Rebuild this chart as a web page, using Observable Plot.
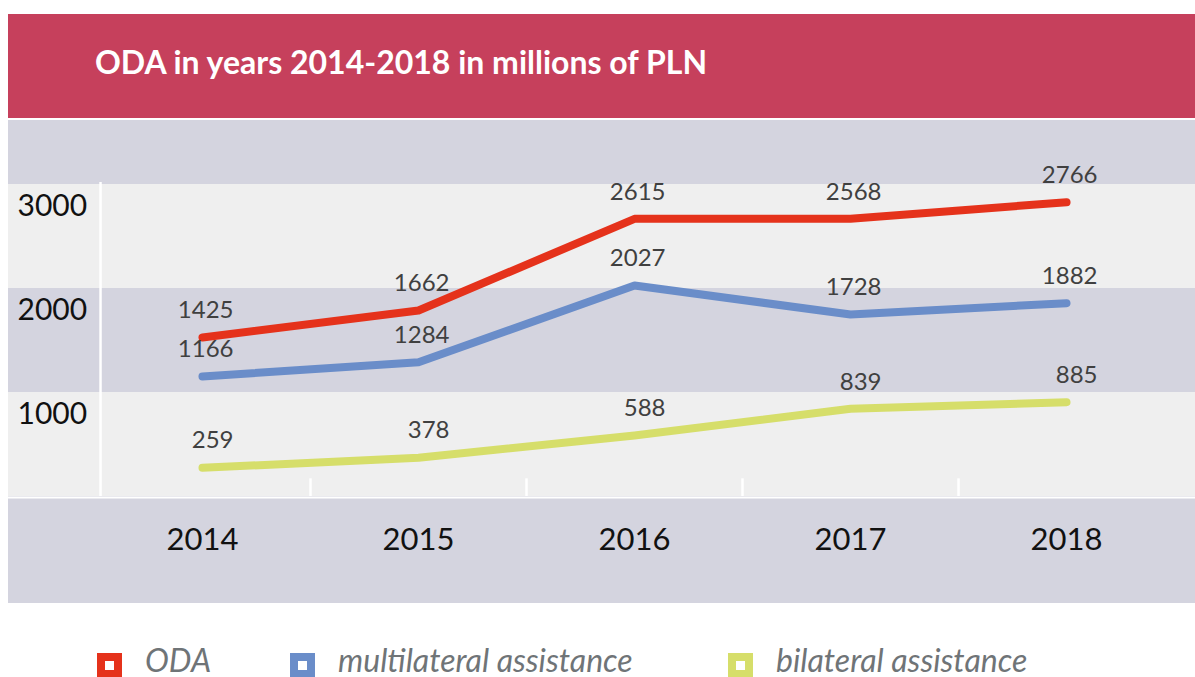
<!DOCTYPE html>
<html>
<head>
<meta charset="utf-8">
<script src="https://cdn.jsdelivr.net/npm/d3@7"></script>
<script src="https://cdn.jsdelivr.net/npm/@observablehq/plot@0.6"></script>
<style>
  html, body { margin: 0; padding: 0; background: #ffffff; width: 1195px; height: 677px; overflow: hidden; font-family: Lato, "Open Sans", sans-serif; }
  #banner { position: absolute; left: 8px; top: 14px; width: 1187px; height: 104px; background: #C6405C; }
  #title { position: absolute; left: 87px; top: 28px; color: #ffffff; font-weight: 700; font-size: 32px; line-height: 40px; white-space: nowrap; }
  #chart { position: absolute; left: 8px; top: 120px; }
  #legend { position: absolute; left: 0; top: 643px; width: 1195px; height: 34px; }
  .item { position: absolute; top: 0; display: flex; align-items: center; height: 34px; }
  .sw { width: 25px; height: 25px; box-sizing: border-box; border: 8px solid; background: #fff; margin-top: 10px; flex: none; }
  .lab { font-style: italic; font-size: 32px; line-height: 34px; color: #6f7477; margin-left: 23px; white-space: nowrap; }
</style>
</head>
<body>
<div id="banner"><div id="title"></div></div>
<div id="chart"></div>
<div id="legend"></div>
<script>
const titleText = "ODA in years 2014-2018 in millions of PLN";
const years = ["2014", "2015", "2016", "2017", "2018"];
const seriesNames = ["ODA", "multilateral assistance", "bilateral assistance"];
const seriesColors = ["#E5321B", "#6A8DC9", "#D6DE6A"];
// printed data labels
const odaLabels = [1425, 1662, 2615, 2568, 2766];
const multiLabels = [1166, 1284, 2027, 1728, 1882];
const biLabels = [259, 378, 588, 839, 885];
// line positions as drawn in the picture
const odaDrawn = [1529, 1788, 2670, 2670, 2830];
const multiDrawn = [1154, 1291, 2029, 1750, 1859];
const biDrawn = [276, 372, 587, 843, 907];
const yTicks = [1000, 2000, 3000];
const bandEdges = [0, 1000, 2000, 3000];

document.getElementById("title").textContent = titleText;

const drawn = [odaDrawn, multiDrawn, biDrawn];
const labels = [odaLabels, multiLabels, biLabels];
const rows = [];
seriesNames.forEach((s, k) => {
  years.forEach((y, i) => rows.push({series: s, i, year: y, value: drawn[k][i], label: labels[k][i]}));
});

const bands = [];
for (let j = 0; j < bandEdges.length - 1; j++) {
  if (j % 2 === 0) bands.push({y1: bandEdges[j], y2: bandEdges[j + 1]});
}
const boundaries = years.slice(1).map((d, i) => i + 0.5);
const xDomain = [-0.898, 4.597];
const axisX = -0.472;

const chart = Plot.plot({
  width: 1187,
  height: 483,
  marginTop: 64,
  marginBottom: 107,
  marginLeft: 0,
  marginRight: 0,
  x: {type: "linear", domain: xDomain, axis: null},
  y: {domain: [0, 3000], axis: null},
  color: {domain: seriesNames, range: seriesColors},
  style: {background: "#D4D4DF", fontFamily: "Lato, 'Open Sans', sans-serif", overflow: "visible"},
  marks: [
    Plot.rectY(bands, {y1: "y1", y2: "y2", fill: "#EFEFEF"}),
    Plot.ruleY([0], {stroke: "#ffffff", strokeWidth: 2, dy: 1}),
    Plot.ruleX([axisX], {y1: 0, y2: 3020, stroke: "#ffffff", strokeWidth: 2.5}),
    Plot.ruleX(boundaries, {y1: 0, y2: 170, stroke: "#ffffff", strokeWidth: 2.5}),
    Plot.text(yTicks, {frameAnchor: "left", y: d => d, text: d => String(d), textAnchor: "start", lineAnchor: "middle", dx: 9, dy: 22, fontSize: 30, fill: "#111111"}),
    Plot.line(rows, {x: "i", y: "value", z: "series", stroke: "series", strokeWidth: 8, strokeLinecap: "round", strokeLinejoin: "round"}),
    Plot.text(rows, {x: "i", y: "value", text: d => String(d.label), textAnchor: "end", lineAnchor: "middle", dx: 31, dy: -27, fontSize: 24, fill: "#404040"}),
    Plot.text(years, {x: (d, i) => i, frameAnchor: "bottom", lineAnchor: "middle", dy: 44, text: d => d, fontSize: 31, fill: "#111111"})
  ]
});
document.getElementById("chart").appendChild(chart);

const legendLeft = [97, 290, 728];
const legend = document.getElementById("legend");
seriesNames.forEach((s, k) => {
  const it = document.createElement("div");
  it.className = "item";
  it.style.left = legendLeft[k] + "px";
  const sw = document.createElement("div");
  sw.className = "sw";
  sw.style.borderColor = seriesColors[k];
  const lab = document.createElement("div");
  lab.className = "lab";
  lab.textContent = s;
  it.appendChild(sw);
  it.appendChild(lab);
  legend.appendChild(it);
});
</script>
</body>
</html>
